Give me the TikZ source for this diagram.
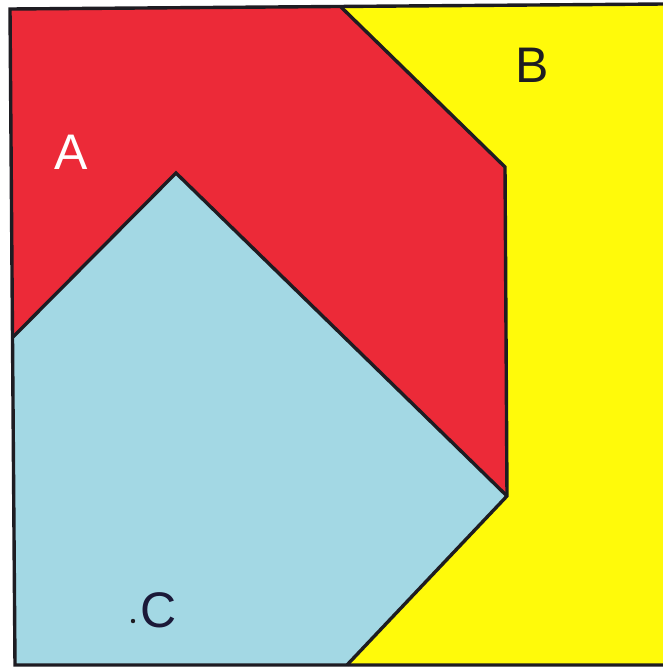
\documentclass[tikz,border=0pt]{standalone}
\usepackage{fontspec}
\setmainfont{Liberation Sans}
\definecolor{redA}{RGB}{236,42,56}
\definecolor{yelB}{RGB}{255,250,10}
\definecolor{bluC}{RGB}{163,216,228}
\definecolor{ink}{RGB}{30,28,34}
\begin{document}
\begin{tikzpicture}[x=1pt,y=-1pt,
  region/.style={draw=ink,line width=3.4pt,line join=miter},
  lbl/.style={inner sep=0pt,anchor=base,font=\fontsize{50}{50}\selectfont}]
\useasboundingbox (0,0) rectangle (662,667);
\fill[white] (0,0) rectangle (662,667);
% regions
\coordinate (tl) at (10,9);
\coordinate (tm) at (341,7);
\coordinate (tr) at (664,4);
\coordinate (br) at (664,665);
\coordinate (bm) at (347,665);
\coordinate (bl) at (15,665);
\coordinate (ml) at (13,337);
\coordinate (apex) at (176,173);
\coordinate (rk) at (505,167);
\coordinate (rv) at (507,496);
\fill[yelB] (tm) -- (tr) -- (br) -- (bm) -- (rv) -- (rk) -- cycle;
\fill[redA] (tl) -- (tm) -- (rk) -- (rv) -- (apex) -- (ml) -- cycle;
\fill[bluC] (ml) -- (apex) -- (rv) -- (bm) -- (bl) -- cycle;
\draw[region] (tm) -- (rk) -- (rv) -- (bm);
\draw[region] (ml) -- (apex) -- (rv);
\draw[region] (tr) -- (tl) -- (bl) -- (br);
% labels
\node[lbl,text=white] (A) at (71,169) {A};
\node[lbl,text=ink] (B) at (532.5,82) {B};
\node[lbl,text=ink!90!blue] (C) at (158.5,627) {C};
\fill[ink] (133,621) circle (2.2);
\end{tikzpicture}
\end{document}
